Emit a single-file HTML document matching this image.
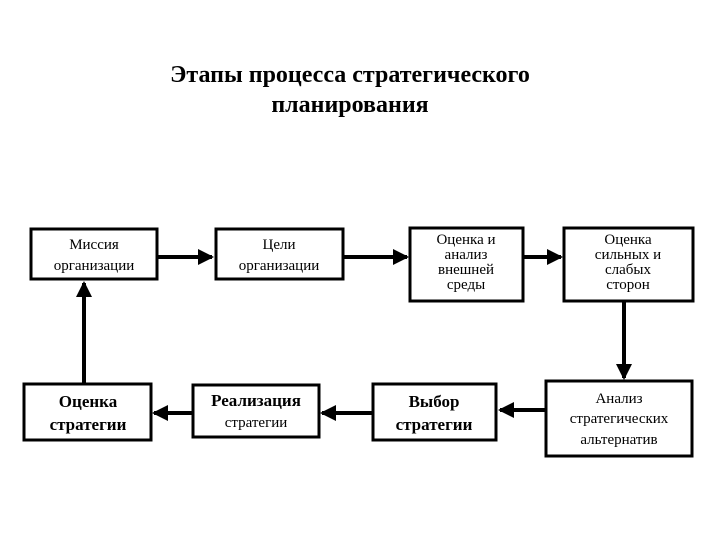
<!DOCTYPE html>
<html><head><meta charset="utf-8"><style>
html,body{margin:0;padding:0;background:#fff;}
svg{display:block;}
text{font-family:"Liberation Serif",serif;fill:#000;text-anchor:middle;}
</style></head><body>
<svg width="720" height="540" viewBox="0 0 720 540" xmlns="http://www.w3.org/2000/svg">
<defs>
<marker id="a" markerWidth="4" markerHeight="4" refX="3.5" refY="2" orient="auto" markerUnits="strokeWidth">
<path d="M0,0 L4,2 L0,4 z" fill="#000"/>
</marker>
</defs>
<text x="350" y="82" font-size="24" font-weight="bold">Этапы процесса стратегического</text>
<text x="350" y="112" font-size="24" font-weight="bold">планирования</text>
<g fill="none" stroke="#000" stroke-width="3">
<rect x="31" y="229" width="126" height="50"/>
<rect x="216" y="229" width="127" height="50"/>
<rect x="410" y="228" width="113" height="73"/>
<rect x="564" y="228" width="129" height="73"/>
<rect x="24" y="384" width="127" height="56"/>
<rect x="193" y="385" width="126" height="52"/>
<rect x="373" y="384" width="123" height="56"/>
<rect x="546" y="381" width="146" height="75"/>
</g>
<g stroke="#000" stroke-width="4" fill="none" marker-end="url(#a)">
<line x1="158" y1="257" x2="212" y2="257"/>
<line x1="344" y1="257" x2="407" y2="257"/>
<line x1="524" y1="257" x2="561" y2="257"/>
<line x1="624" y1="302" x2="624" y2="378"/>
<line x1="545" y1="410" x2="500" y2="410"/>
<line x1="372" y1="413" x2="322" y2="413"/>
<line x1="192" y1="413" x2="154" y2="413"/>
<line x1="84" y1="383" x2="84" y2="283"/>
</g>
<text x="94" y="249" font-size="15">Миссия</text>
<text x="94" y="270" font-size="15">организации</text>
<text x="279" y="249" font-size="15">Цели</text>
<text x="279" y="270" font-size="15">организации</text>
<text x="466" y="244" font-size="15">Оценка и</text>
<text x="466" y="259" font-size="15">анализ</text>
<text x="466" y="274" font-size="15">внешней</text>
<text x="466" y="289" font-size="15">среды</text>
<text x="628" y="244" font-size="15">Оценка</text>
<text x="628" y="259" font-size="15">сильных и</text>
<text x="628" y="274" font-size="15">слабых</text>
<text x="628" y="289" font-size="15">сторон</text>
<text x="88" y="407" font-size="17" font-weight="bold">Оценка</text>
<text x="88" y="430" font-size="17" font-weight="bold">стратегии</text>
<text x="256" y="406" font-size="17" font-weight="bold">Реализация</text>
<text x="256" y="427" font-size="15">стратегии</text>
<text x="434" y="407" font-size="17" font-weight="bold">Выбор</text>
<text x="434" y="430" font-size="17" font-weight="bold">стратегии</text>
<text x="619" y="403" font-size="15">Анализ</text>
<text x="619" y="423" font-size="15">стратегических</text>
<text x="619" y="444" font-size="15">альтернатив</text>
</svg>
</body></html>
